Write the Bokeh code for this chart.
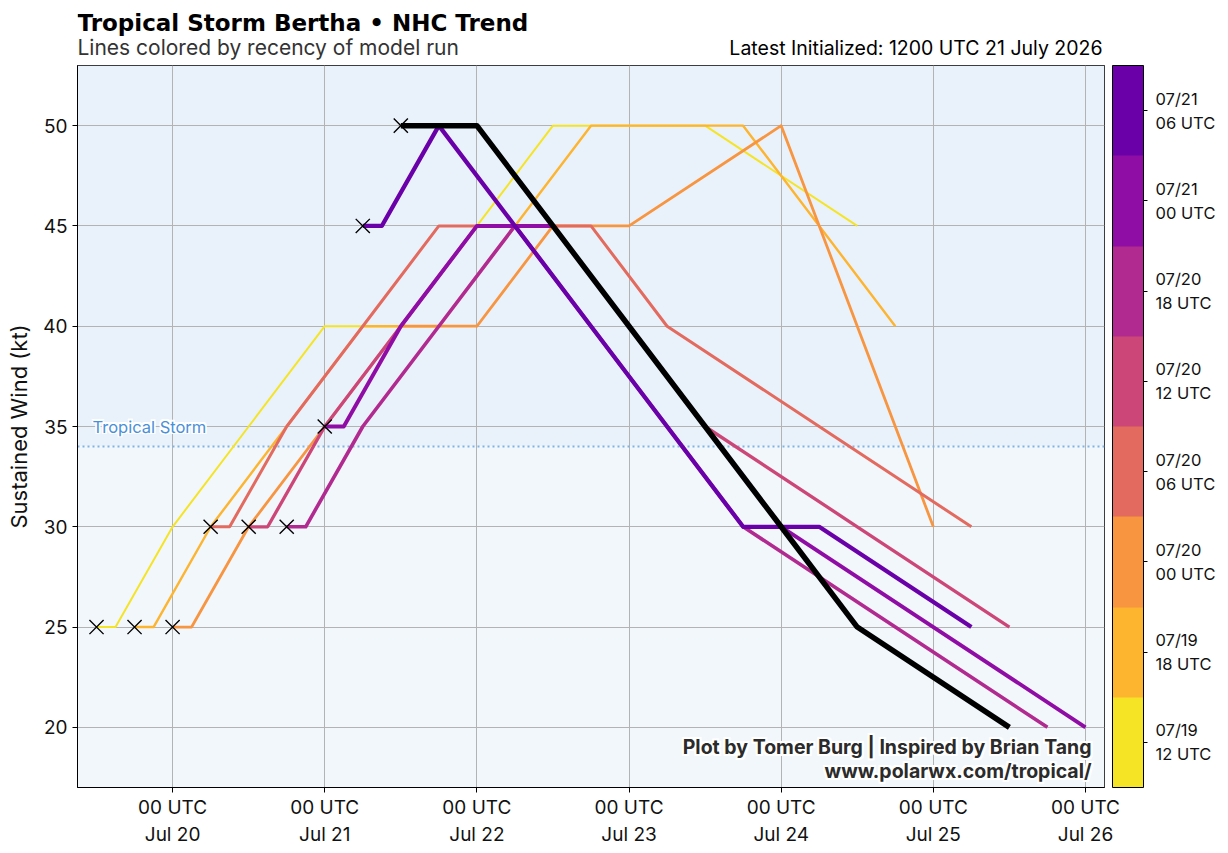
from datetime import datetime, timedelta

from bokeh.embed import file_html
from bokeh.layouts import column
from bokeh.models import (BoxAnnotation, ColorBar, DatetimeTickFormatter, FixedTicker,
                          Label, LinearColorMapper, Range1d, Span)
from bokeh.plotting import figure
from bokeh.resources import INLINE

# NHC advisory runs, initialization time (UTC)
run_inits = ["2026-07-19 12", "2026-07-19 18", "2026-07-20 00", "2026-07-20 06",
             "2026-07-20 12", "2026-07-20 18", "2026-07-21 00", "2026-07-21 06",
             "2026-07-21 12"]

# Lead times (hours) of the intensity points in each advisory
forecast_hours = [0, 3, 12, 24, 36, 48, 60, 72, 96, 120]

# Sustained wind (kt) at each lead time, one list per run
wind_0719_12 = [25, 25, 30, 35, 40, 40, 45, 50, 50, 45]
wind_0719_18 = [25, 25, 30, 35, 40, 40, 45, 50, 50, 40]
wind_0720_00 = [25, 25, 30, 35, 40, 40, 45, 45, 50, 30]
wind_0720_06 = [30, 30, 35, 40, 45, 45, 45, 40, 35, 30]
wind_0720_12 = [30, 30, 35, 40, 45, 45, 40, 35, 30, 25]
wind_0720_18 = [30, 30, 35, 40, 45, 40, 35, 30, 25, 20]
wind_0721_00 = [35, 35, 40, 45, 45, 40, 35, 30, 25, 20]
wind_0721_06 = [45, 45, 50, 45, 40, 35, 30, 30, 25]
wind_0721_12 = [50, 50, 50, 45, 40, 35, 30, 25, 20]

# Colour bar labels for the earlier runs (oldest first)
run_labels = ["07/19\n12 UTC", "07/19\n18 UTC", "07/20\n00 UTC", "07/20\n06 UTC",
              "07/20\n12 UTC", "07/20\n18 UTC", "07/21\n00 UTC", "07/21\n06 UTC"]

# Axis ticks
day_ticks = ["2026-07-20", "2026-07-21", "2026-07-22", "2026-07-23",
             "2026-07-24", "2026-07-25", "2026-07-26"]
wind_ticks = [20, 25, 30, 35, 40, 45, 50]

# Tropical storm threshold (kt)
ts_threshold = 34

runs = [wind_0719_12, wind_0719_18, wind_0720_00, wind_0720_06, wind_0720_12,
        wind_0720_18, wind_0721_00, wind_0721_06, wind_0721_12]

# plasma-style colours from oldest to newest; the latest run is black
run_colors = ["#f5e426", "#fdb42f", "#f89540", "#e36a5e", "#cc4778",
              "#b12a90", "#8f0da4", "#6a00a8"]
line_widths = [2.0, 2.4, 2.8, 3.0, 3.3, 3.6, 3.9, 4.3, 5.5]

FONT = "Inter"
TITLE_FONT = "DejaVu Sans"
LEFT, FRAME_W, FRAME_H, HEAD_H, BOTTOM = 77, 1027, 722, 65, 66
RIGHT = 1228 - LEFT - FRAME_W

init_times = [datetime.strptime(s, "%Y-%m-%d %H") for s in run_inits]
run_x = [[t0 + timedelta(hours=h) for h in forecast_hours[:len(w)]]
         for t0, w in zip(init_times, runs)]

x_start = init_times[0] - timedelta(hours=3)
x_end = max(xs[-1] for xs in run_x) + timedelta(hours=3)
all_w = [v for w in runs for v in w]
y_lo, y_hi = min(all_w) - 3, max(all_w) + 3

# ---- heading strip (its frame lines up with the chart frame) ----
head = figure(frame_width=FRAME_W, frame_height=HEAD_H,
              x_range=Range1d(0, FRAME_W), y_range=Range1d(0, HEAD_H),
              x_axis_location=None, y_axis_location=None,
              min_border_left=LEFT, min_border_right=RIGHT,
              min_border_top=0, min_border_bottom=0,
              toolbar_location=None, output_backend="svg", outline_line_color=None,
              background_fill_color="white", border_fill_color="white")
head.grid.visible = False
latest = init_times[-1]
head.add_layout(Label(x=0, y=HEAD_H - 22, text="Tropical Storm Bertha \u2022 NHC Trend",
                      text_font=TITLE_FONT, text_font_size="23px", text_font_style="bold",
                      text_color="black", text_baseline="middle"))
head.add_layout(Label(x=0, y=HEAD_H - 47, text="Lines colored by recency of model run",
                      text_font=FONT, text_font_size="21px", text_color="#333333",
                      text_baseline="middle"))
head.add_layout(Label(x=FRAME_W - 2, y=HEAD_H - 47,
                      text=f"Latest Initialized: {latest:%H}00 UTC {latest.day} {latest:%B %Y}",
                      text_font=FONT, text_font_size="19.5px", text_color="black",
                      text_align="right", text_baseline="middle"))

# ---- main chart ----
p = figure(x_axis_type="datetime", frame_width=FRAME_W, frame_height=FRAME_H,
           min_border_left=LEFT, min_border_top=0, min_border_bottom=BOTTOM,
           min_border_right=0, toolbar_location=None, output_backend="svg",
           x_range=Range1d(x_start, x_end), y_range=Range1d(y_lo, y_hi),
           background_fill_color="white", border_fill_color="white")

p.outline_line_color = "black"
p.outline_line_width = 1

# intensity bands
p.add_layout(BoxAnnotation(bottom=ts_threshold, fill_color="#e9f2fa", fill_alpha=1,
                           line_alpha=0, level="image"))
p.add_layout(BoxAnnotation(top=ts_threshold, fill_color="#f2f7fc", fill_alpha=1,
                           line_alpha=0, level="image"))

p.grid.grid_line_color = "#b3b3b3"
p.grid.grid_line_width = 1

p.add_layout(Span(location=ts_threshold, dimension="width", line_color="#7fb3e3",
                  line_width=2, line_dash="2 3", level="underlay"))

# axes
epoch = datetime(1970, 1, 1)
p.xaxis.ticker = FixedTicker(ticks=[(datetime.strptime(d, "%Y-%m-%d") - epoch).total_seconds() * 1000
                                    for d in day_ticks])
fmt = "%H UTC\n%b %d"
p.xaxis.formatter = DatetimeTickFormatter(hours=fmt, days=fmt, months=fmt, years=fmt,
                                          minutes=fmt, hourmin=fmt)
p.yaxis.ticker = FixedTicker(ticks=wind_ticks)
p.yaxis.axis_label = "Sustained Wind (kt)"
for ax in (p.xaxis, p.yaxis):
    ax.major_label_text_font = FONT
    ax.major_label_text_font_size = "19px"
    ax.major_label_text_color = "#111111"
    ax.axis_label_text_font = FONT
    ax.axis_label_text_font_size = "22px"
    ax.axis_label_text_font_style = "normal"
    ax.axis_label_text_color = "#111111"
    ax.axis_line_color = "black"
    ax.major_tick_line_color = "black"
    ax.major_tick_out = 5
    ax.major_tick_in = 0
    ax.minor_tick_line_color = None
p.yaxis.axis_label_standoff = 8
p.xaxis.major_label_standoff = 3

# forecast lines, oldest first so the latest run sits on top
for i, (xs, w) in enumerate(zip(run_x, runs)):
    color = run_colors[i] if i < len(run_colors) else "black"
    p.line(xs, w, line_color=color, line_width=line_widths[i], line_join="round")

# initialization markers
p.scatter(init_times, [w[0] for w in runs], marker="x", size=20,
          line_color="black", line_width=1.4)


def halo_label(text, x, y, color, size, style="normal", align="left",
               x_offset=0, y_offset=0, halo=2):
    for dx, dy in [(-halo, 0), (halo, 0), (0, -halo), (0, halo),
                   (-halo, -halo), (halo, halo), (-halo, halo), (halo, -halo)]:
        p.add_layout(Label(x=x, y=y, text=text, x_offset=x_offset + dx,
                           y_offset=y_offset + dy, text_color="white",
                           text_font=FONT, text_font_size=size,
                           text_font_style=style, text_align=align,
                           text_baseline="middle"))
    p.add_layout(Label(x=x, y=y, text=text, x_offset=x_offset, y_offset=y_offset,
                       text_color=color, text_font=FONT, text_font_size=size,
                       text_font_style=style, text_align=align, text_baseline="middle"))


halo_label("Tropical Storm", x_start, ts_threshold, "#4a90d9", "16.5px",
           x_offset=15, y_offset=20, halo=1.5)
halo_label("Plot by Tomer Burg | Inspired by Brian Tang", x_end, y_lo, "#2b2b2b",
           "19.5px", style="bold", align="right", x_offset=-13, y_offset=41)
halo_label("www.polarwx.com/tropical/", x_end, y_lo, "#2b2b2b",
           "19.5px", style="bold", align="right", x_offset=-13, y_offset=17)

# colour bar of previous runs
mapper = LinearColorMapper(palette=run_colors, low=0, high=len(run_colors))
cb_ticks = [i + 0.5 for i in range(len(run_colors))]
cbar = ColorBar(color_mapper=mapper, width=31, height=FRAME_H, location=(8, 0),
                margin=0, padding=0,
                ticker=FixedTicker(ticks=cb_ticks),
                major_label_overrides={t: lab for t, lab in zip(cb_ticks, run_labels)},
                major_label_text_font=FONT, major_label_text_font_size="16.5px",
                major_label_text_color="#111111",
                major_tick_line_color="black", major_tick_out=4, major_tick_in=0,
                bar_line_color="black", bar_line_width=1, label_standoff=8,
                background_fill_alpha=0, border_line_color=None)
p.add_layout(cbar, "right")

open("out.html", "w").write(file_html(column(head, p, spacing=0), INLINE))
